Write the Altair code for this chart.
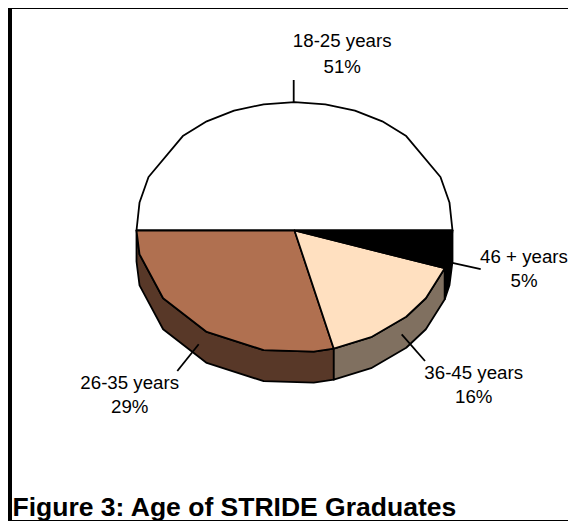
import math
import altair as alt

# ---- data -------------------------------------------------------------
categories = ["46 + years", "36-45 years", "26-35 years", "18-25 years"]
shares = [5, 16, 29, 51]
top_colors = ["#000000", "#FFE0C0", "#B07050", "#FFFFFF"]
side_colors = ["#000000", "#807060", "#583828", "#FFFFFF"]
title_text = "Figure 3: Age of STRIDE Graduates"

# ---- layout (reference-picture pixels; page margin removed below) ------
M = 8
CX, CY, RX = 294.5, 230.5, 158.0
UP_A, UP_K, LOW_R, DEPTH = 148.0, 0.153, 122.0, 31.0


def pt(a, drop=0.0):
    s = math.sin(math.radians(a))
    if s >= 0:
        dy = LOW_R * s
    else:
        dy = UP_A * s / (1 - UP_K * s)
    return [CX + RX * math.cos(math.radians(a)), CY + dy + drop]


grid = [11.25, 33.75, 45, 61, 83, 101.25, 123.75, 146.25, 168.75] + [
    180 + 11.25 * k for k in range(17) if k not in (3, 13)
]


def arc(a0, a1, drop=0.0):
    inner = [g for g in grid if a0 < g < a1]
    return [pt(a, drop) for a in [a0] + inner + [a1]]


bounds = [0.0]
for v in shares:
    bounds.append(min(360.0, bounds[-1] + 3.6 * v))


def feature(ring, fill, name):
    return {
        "type": "Feature",
        "properties": {"fill": fill, "name": name},
        "geometry": {"type": "Polygon", "coordinates": [ring + [ring[0]]]},
    }


features = []
for i in (2, 1, 0):  # side walls of the lower half
    top = arc(bounds[i], bounds[i + 1])
    bottom = arc(bounds[i], bounds[i + 1], DEPTH)
    features.append(feature(top + bottom[::-1], side_colors[i], categories[i] + " side"))
for i in (3, 2, 1, 0):  # top faces
    features.append(feature([[CX, CY]] + arc(bounds[i], bounds[i + 1]), top_colors[i], categories[i]))

pie = (
    alt.Chart(alt.Data(values=features))
    .mark_geoshape(stroke="#000000", strokeWidth=1.8, strokeJoin="round")
    .encode(fill=alt.Fill("properties.fill:N", scale=None))
    .project(type="identity", scale=1, translate=[-M, -M])
)

leaders = [
    {"x": 293.7, "y": 80.0, "x2": 293.7, "y2": 103.0},
    {"x": 177.3, "y": 371.0, "x2": 198.7, "y2": 344.3},
    {"x": 425.0, "y": 361.0, "x2": 401.7, "y2": 334.3},
    {"x": 480.7, "y": 269.2, "x2": 446.7, "y2": 261.7},
]
leader_rows = [{k: v - M for k, v in r.items()} for r in leaders]
leader_chart = (
    alt.Chart(alt.Data(values=leader_rows))
    .mark_rule(color="#000000", strokeWidth=1.8)
    .encode(
        x=alt.X("x:Q", scale=None, axis=None),
        y=alt.Y("y:Q", scale=None, axis=None),
        x2="x2:Q",
        y2="y2:Q",
    )
)

label_pos = {
    "18-25 years": (342.2, 47.0, 72.7),
    "26-35 years": (129.7, 389.0, 413.3),
    "36-45 years": (473.7, 379.0, 403.3),
    "46 + years": (524.0, 262.5, 286.7),
}
label_rows = []
for c, v in zip(categories, shares):
    lx, y1, y2 = label_pos[c]
    label_rows.append({"x": lx - M, "y": y1 - M, "t": c})
    label_rows.append({"x": lx - M, "y": y2 - M, "t": f"{v}%"})
labels = (
    alt.Chart(alt.Data(values=label_rows))
    .mark_text(font="Liberation Sans", fontSize=18.7, color="#000000", align="center", baseline="alphabetic")
    .encode(x=alt.X("x:Q", scale=None, axis=None), y=alt.Y("y:Q", scale=None, axis=None), text="t:N")
)

title = (
    alt.Chart(alt.Data(values=[{"x": 12.5 - M, "y": 515.5 - M, "t": title_text}]))
    .mark_text(font="Liberation Sans", fontSize=26.5, fontWeight="bold", color="#000000", align="left", baseline="alphabetic")
    .encode(x=alt.X("x:Q", scale=None, axis=None), y=alt.Y("y:Q", scale=None, axis=None), text="t:N")
)

W, H = 560, 513
frame_rows = [
    {"x": 0, "x2": W, "y": 0, "y2": 1},       # top bar, clipped by the page margin
    {"x": 0, "x2": 4, "y": 0, "y2": H},       # left bar
    {"x": 0, "x2": W, "y": H - 1, "y2": H},   # bottom bar
]
frame = (
    alt.Chart(alt.Data(values=frame_rows))
    .mark_rect(color="#000000")
    .encode(
        x=alt.X("x:Q", scale=None, axis=None),
        y=alt.Y("y:Q", scale=None, axis=None),
        x2="x2:Q",
        y2="y2:Q",
    )
)

chart = (
    alt.layer(frame, pie, leader_chart, labels, title)
    .properties(width=W, height=H, padding=0, autosize=alt.AutoSizeParams(type="none"), background="#FFFFFF")
    .configure_view(stroke=None)
)

chart.save("out.html", embed_options={"renderer": "svg", "actions": False})
